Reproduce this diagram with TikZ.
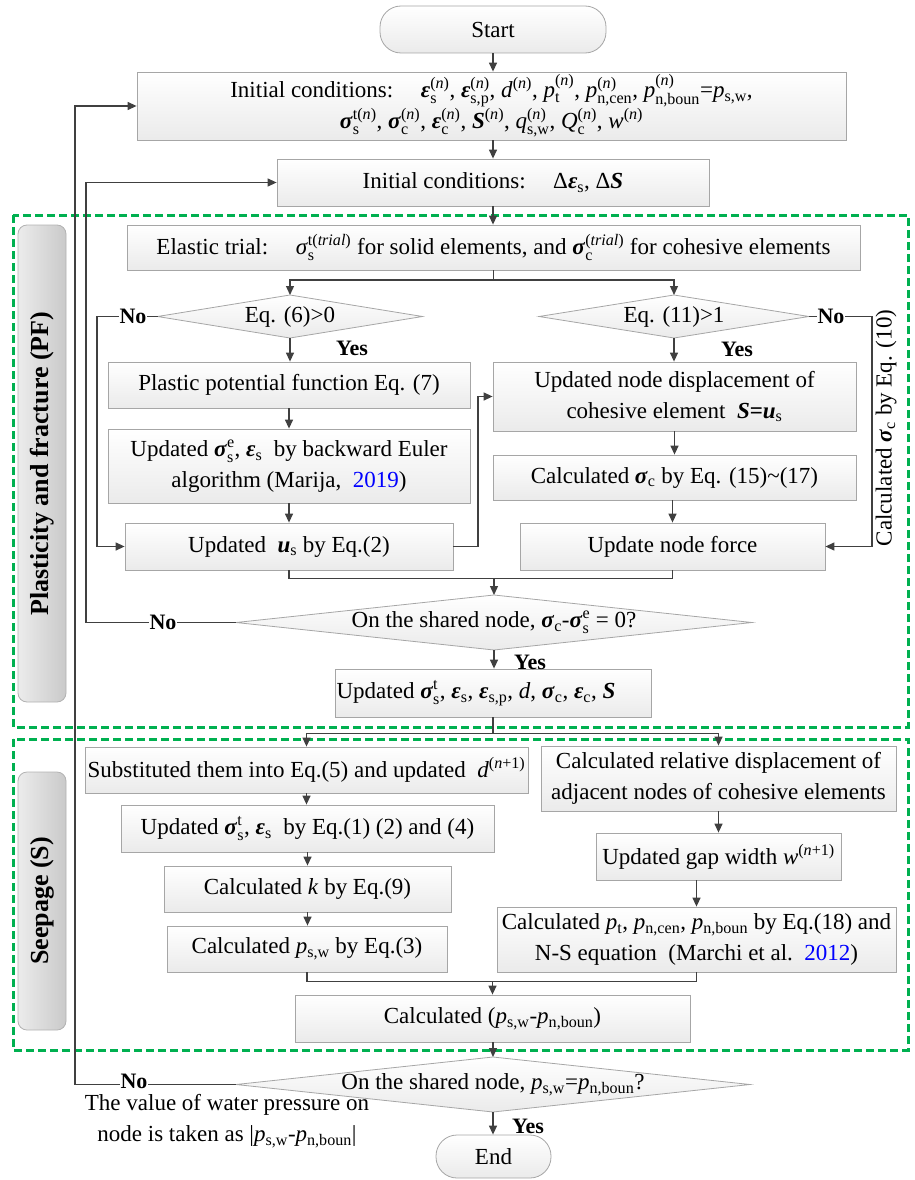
\documentclass[tikz,border=0pt]{standalone}
\usepackage{amsmath}
\usepackage{fontspec}
\setmainfont{Liberation Serif}
\usetikzlibrary{arrows.meta,shapes.geometric}
\definecolor{lnc}{HTML}{404040}
\definecolor{bdc}{HTML}{A6A6A6}
\definecolor{grn}{HTML}{00B050}
\newcommand{\bsig}{\textbf{\textit{σ}}}
\newcommand{\beps}{\textbf{\textit{ε}}}
\newcommand{\bS}{\textbf{\textit{S}}}
\newcommand{\bu}{\textbf{\textit{u}}}
\newcommand{\sbp}[2]{\ensuremath{_{\text{#1}}^{\text{#2}}}}
\newcommand{\sbb}[1]{\ensuremath{_{\text{#1}}}}
\newcommand{\spp}[1]{\ensuremath{^{\text{#1}}}}
\newcommand{\nn}{(\textit{n})}
\begin{document}
\begin{tikzpicture}[x=1pt,y=-1pt, font=\fontsize{23}{31}\selectfont,
 box/.style={draw=bdc, line width=0.8pt, top color=white, bottom color=gray!16, rectangle, inner sep=0pt, align=center},
 pill/.style={box, rounded corners=21pt},
 dia/.style={draw=bdc, line width=0.8pt, top color=white, bottom color=gray!16, diamond, inner sep=0pt, outer sep=0pt},
 conn/.style={draw=lnc, line width=1.3pt},
 arr/.style={conn, -{Triangle[length=9pt,width=8pt]}},
 lbl/.style={font=\fontsize{22}{26}\selectfont\bfseries, fill=white, inner sep=1pt},
 ylbl/.style={font=\fontsize{22}{26}\selectfont\bfseries, inner sep=1pt},
 zone/.style={draw=grn, line width=3pt, dash pattern=on 8pt off 4pt},
 bar/.style={draw=gray!60, line width=0.8pt, rounded corners=9pt, left color=gray!15, right color=gray!42, inner sep=0pt},
 bartxt/.style={rotate=90, font=\fontsize{26}{30}\selectfont\bfseries}
]
\useasboundingbox (0,0) rectangle (914,1180);

% zones
\draw[zone] (13,215) rectangle (908,727);
\draw[zone] (13,739) rectangle (908,1050);
\node[bar, minimum width=48pt, minimum height=477pt] (pfbar) at (42,463.5) {};
\node[bartxt] at (pfbar) {Plasticity and fracture (PF)};
\node[bar, minimum width=48pt, minimum height=258pt] (sbar) at (42,901) {};
\node[bartxt] at (sbar) {Seepage (S)};

% boxes
\node[pill, minimum width=226pt, minimum height=47pt] (start) at (493,29.5) {Start};
\node[box, minimum width=709pt, minimum height=68pt] (init1) at (491.5,106) {Initial conditions:\hspace{1.2em}\beps\sbp{s}{\nn}, \beps\sbp{s,p}{\nn}, \textit{d}\spp{\nn}, \textit{p}\sbp{t}{\nn}, \textit{p}\sbp{n,cen}{\nn}, \textit{p}\sbp{n,boun}{\nn}=\textit{p}\sbb{s,w},\\
\bsig\sbp{s}{t\nn}, \bsig\sbp{c}{\nn}, \beps\sbp{c}{\nn}, \bS\spp{\nn}, \textit{q}\sbp{s,w}{\nn}, \textit{Q}\sbp{c}{\nn}, \textit{w}\spp{\nn}};
\node[box, minimum width=432pt, minimum height=47pt] (init2) at (493,182.5) {Initial conditions:\hspace{1.2em}Δ\beps\sbb{s}, Δ\bS};
\node[box, minimum width=733pt, minimum height=45pt] (elastic) at (493.5,247.5) {Elastic trial:\hspace{1.2em}\textit{σ}\sbp{s}{t(\textit{trial})} for solid elements, and \bsig\sbp{c}{(\textit{trial})} for cohesive elements};

\node[dia, minimum width=265pt, minimum height=43pt] (dL) at (290,316.5) {};
\node at (dL) {Eq. (6)>0};
\node[dia, minimum width=270pt, minimum height=43pt] (dR) at (674,316.5) {};
\node at (dR) {Eq. (11)>1};

\node[box, minimum width=362pt, minimum height=46pt] (plastic) at (289,385) {Plastic potential function Eq. (7)};
\node[box, minimum width=362pt, minimum height=74pt] (updsig) at (289,466) {Updated \bsig\sbp{s}{e}, \beps\sbb{s}\ \ by backward Euler\\algorithm (Marija,\ \ \textcolor{blue}{2019})};
\node[box, minimum width=328pt, minimum height=47pt] (updus) at (289,546.5) {Updated\ \ \bu\sbb{s} by Eq.(2)};

\node[box, minimum width=363pt, minimum height=69pt] (nodedisp) at (674.5,396.5) {Updated node displacement of\\cohesive element\ \ \bS\textbf{=}\bu\sbb{s}};
\node[box, minimum width=363pt, minimum height=45pt] (calcsc) at (674.5,477.5) {Calculated \bsig\sbb{c} by Eq. (15)\textasciitilde(17)};
\node[box, minimum width=305pt, minimum height=47pt] (updforce) at (672.5,546.5) {Update node force};

\node[dia, minimum width=516pt, minimum height=55pt] (dS) at (494,622.5) {};
\node at (dS) {On the shared node, \bsig\sbb{c}-\bsig\sbp{s}{e} = 0?};
\node[box, minimum width=316pt, minimum height=48pt] (updall) at (493,693) {};
\node at (476,693) {Updated \bsig\sbp{s}{t}, \beps\sbb{s}, \beps\sbb{s,p}, \textit{d}, \bsig\sbb{c}, \beps\sbb{c}, \bS};

\node[box, minimum width=443pt, minimum height=46pt] (subst) at (306.5,770) {Substituted them into Eq.(5) and updated\ \ \textit{d}\spp{(\textit{n}+1)}};
\node[box, minimum width=373pt, minimum height=47pt] (updsig2) at (307.5,828.5) {Updated \bsig\sbp{s}{t}, \beps\sbb{s}\ \ by Eq.(1) (2) and (4)};
\node[box, minimum width=287pt, minimum height=46pt] (calck) at (307.5,889) {Calculated \textit{k} by Eq.(9)};
\node[box, minimum width=280pt, minimum height=46pt] (calcp) at (307,949) {Calculated \textit{p}\sbb{s,w} by Eq.(3)};

\node[box, minimum width=355pt, minimum height=65pt] (calcrel) at (718.5,778.5) {Calculated relative displacement of\\adjacent nodes of cohesive elements};
\node[box, minimum width=245pt, minimum height=47pt] (gap) at (718.5,856.5) {Updated gap width \textit{w}\spp{(\textit{n}+1)}};
\node[box, minimum width=399pt, minimum height=65pt] (calcpt) at (696.5,939.5) {Calculated \textit{p}\sbb{t}, \textit{p}\sbb{n,cen}, \textit{p}\sbb{n,boun} by Eq.(18) and\\N-S equation\ \ (Marchi et al.\ \ \textcolor{blue}{2012})};

\node[box, minimum width=395pt, minimum height=47pt] (calcdiff) at (492.5,1018.5) {Calculated (\textit{p}\sbb{s,w}-\textit{p}\sbb{n,boun})};
\node[dia, minimum width=514pt, minimum height=55pt] (dF) at (493,1084.5) {};
\node at (dF) {On the shared node, \textit{p}\sbb{s,w}=\textit{p}\sbb{n,boun}?};
\node[pill, minimum width=115pt, minimum height=43pt] (end) at (493.5,1156.5) {End};

% connectors
\draw[arr] (start.south) -- (start.south |- init1.north);
\draw[arr] (init1.south -| init2.north) -- (init2.north);
\draw[arr] (init2.south) -- (init2.south |- elastic.north);
\coordinate (sp) at (493.5,280);
\draw[conn] (elastic.south) -- (sp);
\draw[arr] (sp) -| (dL.north);
\draw[arr] (sp) -| (dR.north);

\coordinate (nl) at (97,316.5);
\draw[arr] (dL.west) -- (nl) |- (updus.west);
\draw[arr] (dL.south) -- (dL.south |- plastic.north);
\draw[arr] (plastic.south) -- (updsig.north);
\draw[arr] (updsig.south) -- (updus.north);
\coordinate (c1) at (478,546.5);
\draw[arr] (updus.east) -- (c1) |- (nodedisp.west);

\coordinate (nr) at (872,316.5);
\draw[arr] (dR.east) -- (nr) |- (updforce.east);
\draw[arr] (dR.south) -- (dR.south |- nodedisp.north);
\draw[arr] (nodedisp.south) -- (calcsc.north);
\draw[arr] (calcsc.south -| updforce.north) -- (updforce.north);

\draw[conn] (updus.south) -- ++(0,8) coordinate (m1) -| (updforce.south);
\draw[arr] (m1 -| dS.north) -- (dS.north);

\coordinate (ns) at (86,622.5);
\draw[arr] (dS.west) -- (ns) |- (init2.west);
\draw[arr] (dS.south) -- (dS.south |- updall.north);
\draw[conn] (updall.south) -- ++(0,16) coordinate (m2);
\draw[arr] (m2) -| (subst.north);
\draw[arr] (m2) -| (calcrel.north);

\draw[arr] (subst.south) -- (subst.south |- updsig2.north);
\draw[arr] (updsig2.south) -- (calck.north);
\draw[arr] (calck.south) -- (calck.south |- calcp.north);
\draw[arr] (calcrel.south) -- (gap.north);
\draw[arr] (gap.south -| calcpt.north) -- (calcpt.north);

\draw[conn] (calcp.south) -- ++(0,9) coordinate (m3) -| (calcpt.south);
\draw[arr] (m3 -| calcdiff.north) -- (calcdiff.north);
\draw[arr] (calcdiff.south -| dF.north) -- (dF.north);

\coordinate (nf) at (75,1084.5);
\draw[arr] (dF.west) -- (nf) |- (init1.west);
\draw[arr] (dF.south) -- (dF.south |- end.north);

% labels
\node[lbl] at (133,316.5) {No};
\node[lbl] at (831,316.5) {No};
\node[lbl] at (163,622.5) {No};
\node[lbl, anchor=base] at (134,1088) {No};
\node[ylbl] at (352,348) {Yes};
\node[ylbl] at (737,349) {Yes};
\node[ylbl] at (530,662) {Yes};
\node[ylbl] at (528,1126) {Yes};
\node[rotate=90] at (886,428) {Calculated \bsig\sbb{c} by Eq. (10)};
\node[align=center] at (227,1121) {The value of water pressure on\\node is taken as |\textit{p}\sbb{s,w}-\textit{p}\sbb{n,boun}|};
\end{tikzpicture}
\end{document}
